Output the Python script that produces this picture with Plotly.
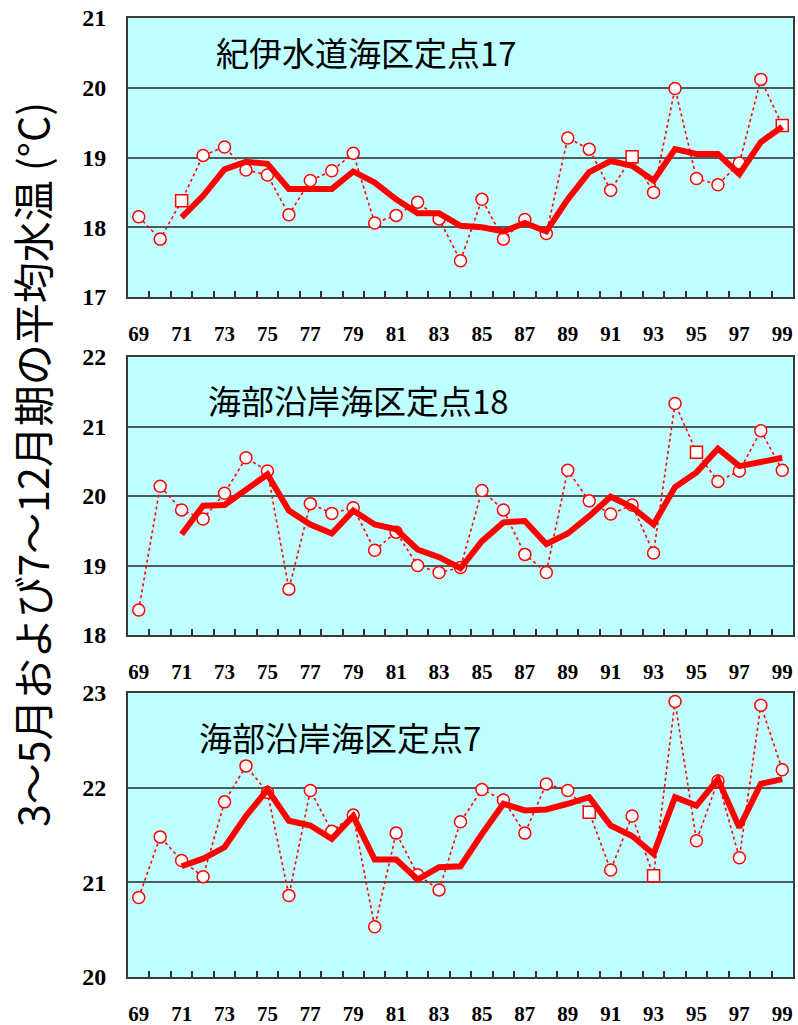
import plotly.graph_objects as go

years = list(range(1969, 2000))
yr = [y - 1900 for y in years]
tick_years = list(range(69, 100, 2))
tick_text = [str(y) for y in tick_years]

titles = ["紀伊水道海区定点17", "海部沿岸海区定点18", "海部沿岸海区定点7"]
y_title = "3～5月および7～12月期の平均水温 (°C)"

# Panel 1: 紀伊水道海区定点17
p1_obs = [18.15, 17.83, 18.38, 19.03, 19.15, 18.82, 18.75, 18.18, 18.67, 18.81,
          19.06, 18.06, 18.17, 18.36, 18.12, 17.52, 18.40, 17.83, 18.11, 17.91,
          19.28, 19.12, 18.53, 19.01, 18.50, 19.99, 18.70, 18.61, 18.92, 20.12, 19.46]
p1_avg = [None, None, 18.14, 18.45, 18.83, 18.94, 18.91, 18.55, 18.55, 18.55,
          18.80, 18.64, 18.40, 18.20, 18.20, 18.02, 18.00, 17.94, 18.06, 17.94,
          18.40, 18.79, 18.95, 18.88, 18.67, 19.12, 19.05, 19.05, 18.76, 19.22, 19.44]

# Panel 2: 海部沿岸海区定点18
p2_obs = [18.36, 20.14, 19.80, 19.67, 20.04, 20.55, 20.36, 18.66, 19.89, 19.75,
          19.83, 19.22, 19.48, 19.00, 18.90, 18.97, 20.08, 19.80, 19.16, 18.90,
          20.37, 19.93, 19.74, 19.87, 19.18, 21.33, 20.63, 20.21, 20.36, 20.94, 20.37]
p2_avg = [None, None, 19.45, 19.86, 19.87, 20.10, 20.31, 19.79, 19.59, 19.46,
          19.79, 19.59, 19.52, 19.23, 19.12, 18.96, 19.35, 19.62, 19.64, 19.31,
          19.46, 19.71, 19.99, 19.84, 19.59, 20.13, 20.34, 20.68, 20.43, 20.49, 20.55]

# Panel 3: 海部沿岸海区定点7
p3_obs = [20.84, 21.48, 21.23, 21.06, 21.85, 22.23, 21.95, 20.86, 21.97, 21.54,
          21.71, 20.53, 21.52, 21.08, 20.92, 21.64, 21.98, 21.87, 21.52, 22.04,
          21.97, 21.74, 21.13, 21.70, 21.07, 22.91, 21.44, 22.07, 21.26, 22.87, 22.19]
p3_avg = [None, None, 21.17, 21.25, 21.37, 21.70, 21.98, 21.65, 21.60, 21.46,
          21.70, 21.24, 21.24, 21.03, 21.16, 21.17, 21.51, 21.83, 21.76, 21.77,
          21.83, 21.90, 21.60, 21.49, 21.30, 21.90, 21.81, 22.09, 21.58, 22.04, 22.09]

y_ranges = [[17, 21], [18, 22], [20, 23]]

# style: marker symbols (some points appear as squares in the original)
sq = {0: [71, 92, 99], 1: [95], 2: [90, 93]}

W, H = 798, 1025
def fx(px):
    return px / W
def fy(py):
    return 1 - py / H

RED = "#FF0000"
fig = go.Figure()
panels = [(p1_obs, p1_avg), (p2_obs, p2_avg), (p3_obs, p3_avg)]
for i, (obs, avg) in enumerate(panels):
    xa = "x" if i == 0 else f"x{i+1}"
    ya = "y" if i == 0 else f"y{i+1}"
    symbols = ["square" if y in sq[i] else "circle" for y in yr]
    fig.add_trace(go.Scatter(
        x=yr, y=obs, mode="lines+markers", xaxis=xa, yaxis=ya,
        line=dict(color=RED, width=1.6, dash="dot"),
        marker=dict(symbol=symbols, size=12, color="white",
                    line=dict(color=RED, width=1.5)),
        showlegend=False, hoverinfo="skip"))
    fig.add_trace(go.Scatter(
        x=yr, y=avg, mode="lines", xaxis=xa, yaxis=ya,
        line=dict(color=RED, width=6), showlegend=False, hoverinfo="skip"))

panel_px = [(18, 297), (357, 635), (693, 977)]
domains = [[fy(b), fy(t)] for t, b in panel_px]
xdom = [fx(128), fx(793)]

layout = dict(
    width=W, height=H,
    margin=dict(l=0, r=0, t=0, b=0, autoexpand=False),
    paper_bgcolor="white", plot_bgcolor="#C0FFFF",
)
for i in range(3):
    xk = "xaxis" if i == 0 else f"xaxis{i+1}"
    yk = "yaxis" if i == 0 else f"yaxis{i+1}"
    ya = "y" if i == 0 else f"y{i+1}"
    xa = "x" if i == 0 else f"x{i+1}"
    layout[xk] = dict(
        domain=xdom, anchor=ya, range=[68.5, 99.5],
        tickmode="array", tickvals=tick_years, ticktext=tick_text,
        ticks="outside", ticklen=17, tickcolor="rgba(0,0,0,0)",
        tickfont=dict(family="Liberation Serif", size=21, color="black", weight="bold"),
        showgrid=False, zeroline=False, ticklabeloverflow="allow",
        showline=True, mirror=True, linecolor="#3A3A3A", linewidth=2,
        minor=dict(tickvals=[y + 0.5 for y in range(69, 99)], ticks="inside",
                   ticklen=6, tickwidth=1.5, tickcolor="#303030", showgrid=False),
    )
    lo, hi = y_ranges[i]
    layout[yk] = dict(
        domain=domains[i], anchor=xa, range=[lo, hi],
        tickmode="array", tickvals=list(range(lo, hi + 1)),
        ticks="outside", ticklen=15, tickcolor="rgba(0,0,0,0)",
        tickfont=dict(family="Liberation Serif", size=24, color="black", weight="bold"),
        showgrid=True, gridcolor="#4A5E5E", gridwidth=1.5, zeroline=False,
        ticklabeloverflow="allow",
        showline=True, mirror=True, linecolor="#3A3A3A", linewidth=2,
    )
fig.update_layout(**layout)

title_pos = [(366, 52), (358, 400), (340, 737)]
for t, (px, py) in zip(titles, title_pos):
    fig.add_annotation(
        text=t, xref="paper", yref="paper", x=fx(px), y=fy(py),
        xanchor="center", yanchor="middle", showarrow=False,
        font=dict(family="Noto Sans CJK JP", size=33, color="black"))

fig.add_annotation(
    text=y_title, xref="paper", yref="paper", x=fx(31), y=fy(465),
    xanchor="center", yanchor="middle", textangle=-90, showarrow=False,
    font=dict(family="Noto Sans CJK JP", size=41, color="black"))

fig.write_html("out.html",
               config={"displayModeBar": False},
               post_script="document.body.style.margin='0px';")
